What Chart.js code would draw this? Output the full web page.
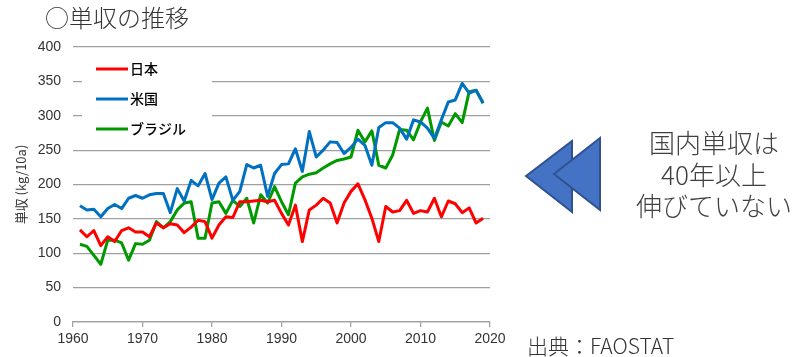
<!DOCTYPE html>
<html lang="ja">
<head>
<meta charset="utf-8">
<title>単収の推移</title>
<script src="https://cdn.jsdelivr.net/npm/chart.js@4.4.1/dist/chart.umd.min.js"></script>
<style>
  html, body { margin: 0; padding: 0; background: #ffffff; }
  #wrap { position: relative; width: 794px; height: 357px; overflow: hidden; }
  #chart { position: absolute; left: 0; top: 0; }
</style>
</head>
<body>
<div id="wrap"><canvas id="chart" width="794" height="357"></canvas></div>
<script>
// 大豆の単収 (kg/10a), 1961–2019
const years = [];
for (let y = 1961; y <= 2019; y++) years.push(y);

const japan = [134,124,133,111,124,117,133,137,131,131,124,144,137,143,141,130,138,148,146,122,
               141,153,152,175,175,176,177,175,177,158,141,170,117,163,170,180,173,144,173,190,
               201,178,151,117,168,160,162,177,158,162,160,180,153,176,172,159,166,144,151];
const usa   = [169,163,164,153,165,171,165,180,184,180,185,187,187,159,194,176,206,198,216,178,
               202,211,177,190,229,224,228,183,216,229,230,252,219,277,240,250,262,261,245,254,
               266,257,228,283,290,290,282,266,294,291,282,267,294,320,323,347,333,337,319];
const brazil= [113,110,97,84,119,119,115,90,114,113,119,146,137,146,163,173,175,122,122,173,
               175,158,177,168,180,144,185,173,197,175,156,202,211,215,217,224,230,235,237,240,
               279,262,278,228,224,243,280,279,265,291,311,264,291,285,303,290,335,337,318];

const seriesNames = ['日本', '米国', 'ブラジル'];
const yTicks = [0, 50, 100, 150, 200, 250, 300, 350, 400];
const xTicks = [1960, 1970, 1980, 1990, 2000, 2010, 2020];

const colors = ['#ff0000', '#0070c0', '#009a00'];
const toPoints = arr => arr.map((v, i) => ({ x: years[i], y: v }));

const JP_FONT = '"Noto Sans CJK JP", "Noto Sans", sans-serif';
const NUM_FONT = '"Liberation Sans", Arial, sans-serif';

// 凡例・見出し・矢印・注記をキャンバスに描く
const decorations = {
  id: 'decorations',
  beforeDatasetsDraw(chart) {
    const ctx = chart.ctx;
    ctx.save();
    ctx.fillStyle = '#ffffff';
    ctx.fillRect(82, 56, 130, 88);
    ctx.restore();
  },
  afterDraw(chart) {
    const ctx = chart.ctx;
    ctx.save();

    // 凡例
    chart.data.datasets.forEach((ds, i) => {
      const y = 69 + i * 30;
      ctx.strokeStyle = ds.borderColor;
      ctx.lineWidth = 3;
      ctx.beginPath();
      ctx.moveTo(96, y);
      ctx.lineTo(128, y);
      ctx.stroke();
      ctx.fillStyle = '#000000';
      ctx.font = '500 14px ' + JP_FONT;
      ctx.textBaseline = 'middle';
      ctx.textAlign = 'left';
      ctx.fillText(ds.label, 130, y);
    });

    // 見出し
    ctx.fillStyle = '#333333';
    ctx.font = '300 24px ' + JP_FONT;
    ctx.textBaseline = 'middle';
    ctx.textAlign = 'left';
    ctx.fillText('○単収の推移', 45, 18);

    // 矢印 (二重の三角)
    const tri = (tipX, tipY, backX, top, bottom) => {
      ctx.beginPath();
      ctx.moveTo(tipX, tipY);
      ctx.lineTo(backX, top);
      ctx.lineTo(backX, bottom);
      ctx.closePath();
      ctx.fillStyle = '#4472c4';
      ctx.fill();
      ctx.strokeStyle = '#2f528f';
      ctx.lineWidth = 2;
      ctx.lineJoin = 'miter';
      ctx.stroke();
    };
    tri(526, 176, 572, 141, 212);
    tri(554, 174, 600, 138, 210);

    // 注記
    ctx.fillStyle = '#404040';
    ctx.font = '300 26px ' + JP_FONT;
    ctx.textAlign = 'center';
    ctx.fillText('国内単収は', 714, 143);
    ctx.fillText('40年以上', 714, 175);
    ctx.fillText('伸びていない', 714, 206);

    // 出典
    ctx.fillStyle = '#333333';
    ctx.font = '300 21px ' + JP_FONT;
    ctx.textAlign = 'left';
    ctx.fillText('出典：FAOSTAT', 527, 346);

    ctx.restore();
  }
};

new Chart(document.getElementById('chart'), {
  type: 'line',
  data: {
    datasets: [
      { label: seriesNames[0], data: toPoints(japan),  borderColor: colors[0] },
      { label: seriesNames[1], data: toPoints(usa),    borderColor: colors[1] },
      { label: seriesNames[2], data: toPoints(brazil), borderColor: colors[2] }
    ].map(d => Object.assign(d, {
      borderWidth: 3, pointRadius: 0, fill: false, tension: 0, borderJoinStyle: 'round'
    }))
  },
  options: {
    responsive: false,
    animation: false,
    layout: { padding: { left: 0, top: 47, right: 304, bottom: 0 } },
    plugins: { legend: { display: false }, tooltip: { enabled: false } },
    scales: {
      x: {
        type: 'linear',
        min: xTicks[0],
        max: xTicks[xTicks.length - 1],
        afterBuildTicks(scale) { scale.ticks = xTicks.map(v => ({ value: v })); },
        afterFit(scale) { scale.height = 35; },
        grid: { drawOnChartArea: false, drawTicks: true, tickLength: 5, color: '#a0a0a0', lineWidth: 1.25 },
        border: { display: true, color: '#a0a0a0', width: 1.25 },
        ticks: {
          padding: 4,
          color: '#333333',
          font: { family: NUM_FONT, size: 14 },
          maxRotation: 0,
          callback: v => String(v)
        }
      },
      y: {
        min: yTicks[0],
        max: yTicks[yTicks.length - 1],
        afterBuildTicks(scale) { scale.ticks = yTicks.map(v => ({ value: v })); },
        afterFit(scale) { scale.width = 73; },
        grid: { color: '#a0a0a0', lineWidth: 1.25, drawTicks: false },
        border: { display: false },
        ticks: {
          padding: 12,
          color: '#333333',
          font: { family: NUM_FONT, size: 14 }
        },
        title: {
          display: true,
          text: '単収 (kg/10a)',
          color: '#333333',
          font: { family: JP_FONT, size: 13 },
          padding: { top: 13, bottom: 0 }
        }
      }
    }
  },
  plugins: [decorations]
});
</script>
</body>
</html>
